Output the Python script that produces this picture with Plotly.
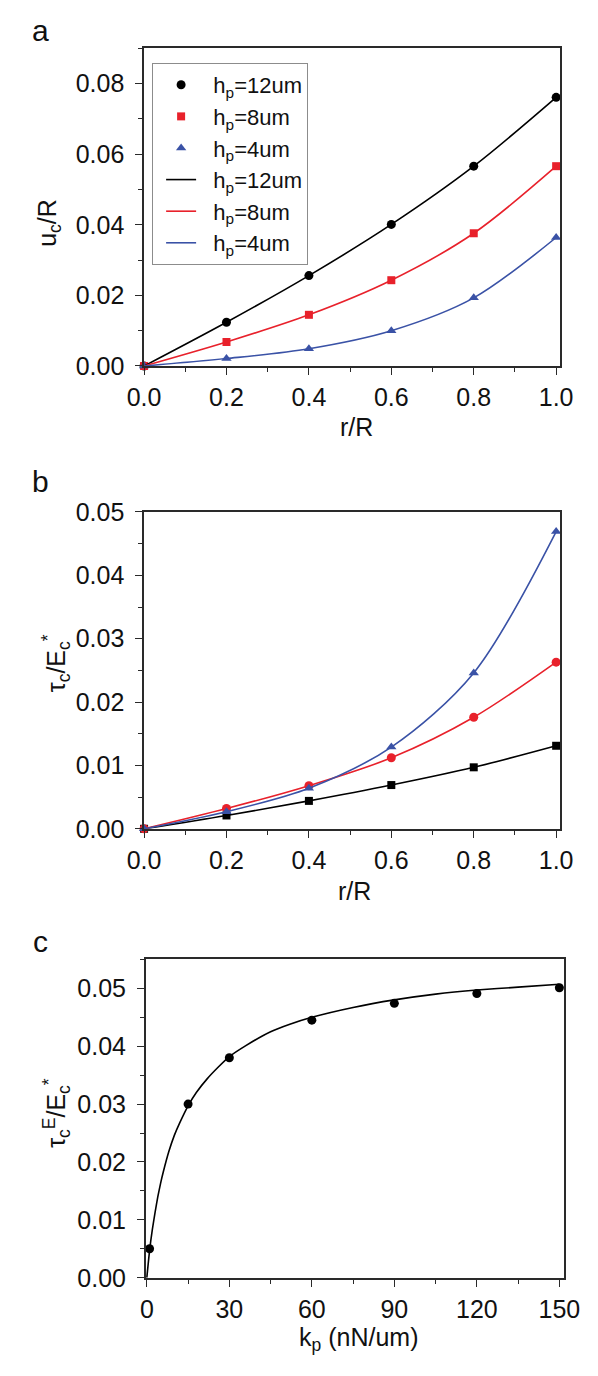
import plotly.graph_objects as go

# ---- data -------------------------------------------------------------
r_over_R = [0.0, 0.2, 0.4, 0.6, 0.8, 1.0]

# panel a: u_c/R
uc_h12 = [0.0, 0.0124, 0.0256, 0.0401, 0.0566, 0.0761]
uc_h8 = [0.0, 0.0068, 0.0145, 0.0243, 0.0376, 0.0566]
uc_h4 = [0.0, 0.0021, 0.0049, 0.0100, 0.0193, 0.0364]

# panel b: tau_c/E_c*
tau_h12 = [0.0, 0.0021, 0.0044, 0.0069, 0.0097, 0.0131]
tau_h8 = [0.0, 0.0032, 0.0068, 0.0112, 0.0176, 0.0263]
tau_h4 = [0.0, 0.0027, 0.0064, 0.0129, 0.0246, 0.0469]

# panel c: tau_c^E/E_c* against pillar stiffness
kp_points = [1, 15, 30, 60, 90, 120, 150]
tauE_points = [0.0050, 0.0300, 0.0380, 0.0445, 0.0474, 0.0491, 0.0501]
# fitted curve, sampled along its length
kp_curve = [0, 1, 2, 3, 4, 5, 6, 8, 10, 12, 15, 18, 22, 26, 30,
            36, 45, 52, 60, 75, 90, 105, 120, 135, 150]
tauE_curve = [0.0, 0.0047, 0.0083, 0.0113, 0.0140, 0.0163, 0.0183, 0.0218,
              0.0246, 0.0268, 0.0297, 0.0320, 0.0344, 0.0364, 0.0382,
              0.0401, 0.0425, 0.0438, 0.0450, 0.0467, 0.0480, 0.0490,
              0.0497, 0.0502, 0.0507]

NBSP = "\u00a0"
legend_names = [NBSP * 2 + "h<sub>p</sub>=12um",
                NBSP * 2 + "h<sub>p</sub>=8um",
                NBSP * 2 + "h<sub>p</sub>=4um"]

# ---- styling ----------------------------------------------------------
BLACK = "#000000"
RED = "#e8212b"
BLUE = "#3a52a6"
FONT = "Liberation Sans, Arial, sans-serif"
TICK_SIZE = 25
AXIS_COLOR = "#2a2a2a"

W, H = 598, 1376


def px_x(v):
    return v / W


def px_y(v):
    return 1 - v / H


fig = go.Figure()

# panel a: markers then fitted lines
for y, c, sym, sz, name in [(uc_h12, BLACK, "circle", 9, legend_names[0]),
                            (uc_h8, RED, "square", 8, legend_names[1]),
                            (uc_h4, BLUE, "triangle-up", 9, legend_names[2])]:
    fig.add_trace(go.Scatter(x=r_over_R, y=y, mode="markers", name=name,
                             marker=dict(color=c, symbol=sym, size=sz),
                             cliponaxis=False, xaxis="x", yaxis="y"))
for y, c, name in [(uc_h12, BLACK, legend_names[0]),
                   (uc_h8, RED, legend_names[1]),
                   (uc_h4, BLUE, legend_names[2])]:
    fig.add_trace(go.Scatter(x=r_over_R, y=y, mode="lines", name=name,
                             line=dict(color=c, width=1.6, shape="spline", smoothing=0.9),
                             xaxis="x", yaxis="y"))

# panel b
for y, c, sym, sz in [(tau_h12, BLACK, "square", 8),
                      (tau_h8, RED, "circle", 9),
                      (tau_h4, BLUE, "triangle-up", 9)]:
    fig.add_trace(go.Scatter(x=r_over_R, y=y, mode="lines+markers", showlegend=False,
                             line=dict(color=c, width=1.6, shape="spline", smoothing=0.9),
                             marker=dict(color=c, symbol=sym, size=sz),
                             cliponaxis=False, xaxis="x2", yaxis="y2"))

# panel c
fig.add_trace(go.Scatter(x=kp_curve, y=tauE_curve, mode="lines", showlegend=False,
                         line=dict(color=BLACK, width=1.6, shape="spline", smoothing=0.6),
                         xaxis="x3", yaxis="y3"))
fig.add_trace(go.Scatter(x=kp_points, y=tauE_points, mode="markers", showlegend=False,
                         marker=dict(color=BLACK, symbol="circle", size=9),
                         cliponaxis=False, xaxis="x3", yaxis="y3"))


def base_axis(domain, rng, dtick, minor_dtick, anchor, fmt, standoff):
    return dict(domain=domain, range=rng, anchor=anchor, dtick=dtick, tick0=0,
                tickformat=fmt, showgrid=False, zeroline=False,
                showline=True, linecolor=AXIS_COLOR, linewidth=1.5, mirror=True,
                ticks="outside", ticklen=7, tickwidth=1.3, tickcolor=AXIS_COLOR,
                ticklabelstandoff=standoff,
                minor=dict(dtick=minor_dtick, tick0=0, ticks="outside", ticklen=4,
                           tickwidth=1.2, tickcolor=AXIS_COLOR, showgrid=False),
                tickfont=dict(family=FONT, size=TICK_SIZE, color="#111111"))


def mirror_axis(domain, rng, dtick, minor_dtick, anchor, overlaying, side):
    return dict(domain=domain, range=rng, anchor=anchor, overlaying=overlaying, side=side,
                dtick=dtick, tick0=0, showgrid=False, zeroline=False, showline=False,
                showticklabels=False, ticks="inside", ticklen=6.5, tickwidth=1.3,
                tickcolor=AXIS_COLOR,
                minor=dict(dtick=minor_dtick, tick0=0, ticks="inside", ticklen=4,
                           tickwidth=1.2, tickcolor=AXIS_COLOR, showgrid=False))


xd_ab = [px_x(134.5), px_x(575)]
xd_c = [px_x(136.3), px_x(579)]
yd_a = [px_y(359.3), px_y(35)]
yd_b = [px_y(831.7), px_y(508.3)]
yd_c = [px_y(1290), px_y(965)]

xr_ab = [0, 1.01]
xr_c = [-0.38, 151.7]
yr_a = [0, 0.09]
yr_b = [0, 0.05]
yr_c = [0, 0.055]

layout = dict(
    width=W, height=H, autosize=False,
    margin=dict(l=0, r=0, t=0, b=0, pad=0),
    paper_bgcolor="white", plot_bgcolor="white",
    font=dict(family=FONT, size=TICK_SIZE, color="#111111"),
    xaxis=base_axis(xd_ab, xr_ab, 0.2, 0.1, "y", ".1f", 1),
    yaxis=base_axis(yd_a, yr_a, 0.02, 0.01, "x", ".2f", 6),
    xaxis2=base_axis(xd_ab, xr_ab, 0.2, 0.1, "y2", ".1f", 1),
    yaxis2=base_axis(yd_b, yr_b, 0.01, 0.005, "x2", ".2f", 6),
    xaxis3=base_axis(xd_c, xr_c, 30, 15, "y3", "d", 1),
    yaxis3=base_axis(yd_c, yr_c, 0.01, 0.005, "x3", ".2f", 6),
    xaxis4=mirror_axis(xd_ab, xr_ab, 0.2, 0.1, "y", "x", "top"),
    yaxis4=mirror_axis(yd_a, yr_a, 0.02, 0.01, "x", "y", "right"),
    xaxis5=mirror_axis(xd_ab, xr_ab, 0.2, 0.1, "y2", "x2", "top"),
    yaxis5=mirror_axis(yd_b, yr_b, 0.01, 0.005, "x2", "y2", "right"),
    xaxis6=mirror_axis(xd_c, xr_c, 30, 15, "y3", "x3", "top"),
    yaxis6=mirror_axis(yd_c, yr_c, 0.01, 0.005, "x3", "y3", "right"),
    legend=dict(x=px_x(143), y=px_y(50), xanchor="left", yanchor="top",
                bgcolor="white", bordercolor="#8c8c8c", borderwidth=1,
                font=dict(family=FONT, size=22, color="#111111"),
                traceorder="normal", itemwidth=30, tracegroupgap=0,
                indentation=8),
    showlegend=True,
)
fig.update_layout(**layout)

annos = [
    # panel letters
    ("a", 24.5, 17, 0, 30),
    ("b", 24.5, 477, 0, 30),
    ("c", 24.5, 947, 0, 30),
    # axis titles
    ("r/R", 359, 422, 0, TICK_SIZE),
    ("r/R", 357, 895, 0, TICK_SIZE),
    ("k<sub>p</sub> (nN/um)", 361, 1353, 0, TICK_SIZE),
    ("u<sub>c</sub>/R", 33, 213, -90, TICK_SIZE),
    ("τ<sub>c</sub>/E<sub>c</sub><sup>*</sup>", 41, 663, -90, TICK_SIZE),
    ("τ<sub>c</sub><sup>E</sup>/E<sub>c</sub><sup>*</sup>", 42, 1122, -90, TICK_SIZE),
]
for text, x, y, ang, size in annos:
    fig.add_annotation(text=text, x=px_x(x), y=px_y(y), xref="paper", yref="paper",
                       xanchor="center", yanchor="middle", showarrow=False,
                       textangle=ang, font=dict(family=FONT, size=size, color="#111111"))

fig.write_html("out.html")
